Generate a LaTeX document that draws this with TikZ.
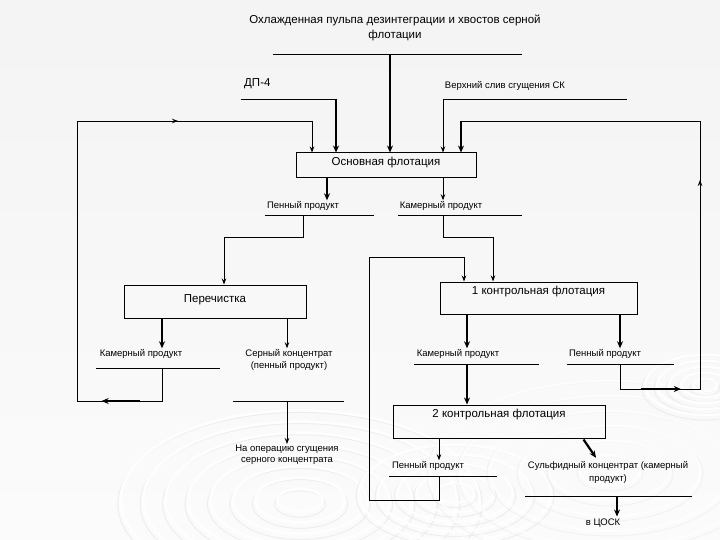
\documentclass[tikz,border=0pt]{standalone}
\usepackage{fontspec}
\setmainfont{Liberation Sans}
\usetikzlibrary{arrows.meta, positioning, calc}

\begin{document}
\begin{tikzpicture}[
    x=1pt, y=-1pt,
    opbox/.style={draw, line width=1pt, inner sep=0pt, text height=8pt, font=\fontsize{11.5}{13}\selectfont},
    lbl/.style={font=\fontsize{9.5}{12}\selectfont, align=center, inner sep=0pt},
    big/.style={font=\fontsize{11.5}{14.5}\selectfont, align=center, inner sep=0pt},
    bar/.style={line width=0.9pt},
    arr/.style={-{Stealth[length=6pt, width=4.5pt]}, line width=0.9pt},
    thickarr/.style={-{Stealth[length=7pt, width=6pt]}, line width=2.2pt},
    ripple/.style={white, line width=2.5pt, opacity=0.9},
    rippleshade/.style={gray!16, line width=1pt, opacity=0.8},
  ]

  % Background
  \useasboundingbox (0,0) rectangle (720,540);
  \fill[top color=gray!9, bottom color=gray!3] (0,0) rectangle (720,540);
  \begin{scope}
    \clip (0,0) rectangle (720,540);
    \foreach \r in {14,28,...,112} {
      \draw[rippleshade] (300,504) ellipse ({1.6*\r+3} and {0.8*\r+2});
      \draw[ripple] (300,500) ellipse ({1.6*\r} and {0.8*\r});
    }
    \foreach \r in {12,24,...,60} {
      \draw[rippleshade] (455,496) ellipse ({1.6*\r+3} and {0.8*\r+2});
      \draw[ripple] (455,493) ellipse ({1.6*\r} and {0.8*\r});
    }
    \foreach \r in {20,40,...,120} {
      \draw[rippleshade, opacity=0.5] (610,474) ellipse ({1.5*\r+3} and {0.75*\r+2});
      \draw[ripple, opacity=0.6] (610,471) ellipse ({1.5*\r} and {0.75*\r});
    }
    \foreach \r in {8,16,...,40} {
      \draw[rippleshade] (705,388) ellipse ({1.5*\r+3} and {0.75*\r+2});
      \draw[ripple] (705,385) ellipse ({1.5*\r} and {0.75*\r});
    }
  \end{scope}

  % Feed streams
  \node[big] (feed) at (395,28) {Охлажденная пульпа дезинтеграции и хвостов серной\\флотации};
  \node[big, anchor=west] (dp) at (244,84) {ДП-4};
  \node[lbl] (sliv) at (505,86) {Верхний слив сгущения СК};

  % Operations
  \node[opbox, minimum width=180pt, minimum height=25pt, text depth=7pt] (osn) at (386,165.5) {Основная флотация};
  \node[opbox, minimum width=182pt, minimum height=33pt, text depth=7pt] (per) at (215,301.5) {Перечистка};
  \node[opbox, minimum width=197pt, minimum height=32pt, text depth=16pt] (k1) at (538.5,298) {1 контрольная флотация};
  \node[opbox, minimum width=212pt, minimum height=33pt, text depth=17pt] (k2) at (499,421.5) {2 контрольная флотация};

  % Products
  \node[lbl] (pen1) at (303,206) {Пенный продукт};
  \node[lbl] (kam1) at (441,206) {Камерный продукт};
  \node[lbl] (kam2) at (141,354) {Камерный продукт};
  \node[lbl] (ser) at (289,360) {Серный концентрат\\(пенный продукт)};
  \node[lbl, font=\fontsize{9.5}{11}\selectfont] (nao) at (287,455) {На операцию сгущения\\серного концентрата};
  \node[lbl] (kam3) at (458,354) {Камерный продукт};
  \node[lbl] (pen2) at (605,354) {Пенный продукт};
  \node[lbl] (pen3) at (428,466) {Пенный продукт};
  \node[lbl, font=\fontsize{9.5}{13}\selectfont] (sulf) at (608,472) {Сульфидный концентрат (камерный\\продукт)};
  \node[lbl] (tsosk) at (603,523) {в ЦОСК};

  % Bars under the labels
  \coordinate (feedL) at (273,54);  \coordinate (feedR) at (522,54);
  \coordinate (dpL) at (241,99);    \coordinate (dpR) at (336,99);
  \coordinate (slivL) at (443,99);  \coordinate (slivR) at (627,99);
  \coordinate (pen1L) at (265,215); \coordinate (pen1R) at (374,215);
  \coordinate (kam1L) at (398,215); \coordinate (kam1R) at (522,215);
  \coordinate (kam2L) at (96,368);  \coordinate (kam2R) at (220,368);
  \coordinate (serL) at (233,401);  \coordinate (serR) at (344,401);
  \coordinate (kam3L) at (414,364); \coordinate (kam3R) at (539,364);
  \coordinate (pen2L) at (567,364); \coordinate (pen2R) at (674,364);
  \coordinate (pen3L) at (389,476); \coordinate (pen3R) at (497,476);
  \coordinate (sulfL) at (525,496); \coordinate (sulfR) at (692,496);
  \foreach \p in {feed,dp,sliv,pen1,kam1,kam2,ser,kam3,pen2,pen3,sulf}
    \draw[bar] (\p L) -- (\p R);

  % Junctions on the bars
  \coordinate (feedJ) at (390,54);
  \coordinate (pen1J) at (303,215);
  \coordinate (kam1J) at (443,215);
  \coordinate (kam2J) at (162,368);
  \coordinate (serJ) at (287,401);
  \coordinate (kam3J) at (467,364);
  \coordinate (pen2J) at (620,364);
  \coordinate (pen3J) at (439,476);
  \coordinate (sulfJ) at (617,496);
  \coordinate (osnP) at (327,178);

  % Into the rougher
  \draw[thickarr] (feedJ) -- (feedJ |- osn.north);
  \draw[thickarr] (dpR) -- (dpR |- osn.north);
  \draw[arr] (slivL) -- (slivL |- osn.north);

  % Out of the rougher
  \draw[thickarr, shorten >=1pt] (osnP |- osn.south) -- (osnP |- pen1.north);
  \draw[arr, shorten >=1pt] (kam1J |- osn.south) -- (kam1J |- kam1.north);
  \coordinate (pen1K) at (224,237);
  \draw[arr] (pen1J) |- (pen1K) -- (pen1K |- per.north);
  \coordinate (kam1K) at (493,237);
  \draw[arr] (kam1J) |- (kam1K) -- (kam1K |- k1.north);

  % Cleaner
  \draw[thickarr, shorten >=1pt] (kam2J |- per.south) -- (kam2J |- kam2.north);
  \draw[arr, shorten >=1pt] (serJ |- per.south) -- (serJ |- ser.north);
  \draw[arr, shorten >=1pt] (serJ) -- (serJ |- nao.north);

  % Recycle of cleaner tailings
  \coordinate (lpB) at (77,401);
  \coordinate (lpT) at (77,121);
  \coordinate (lpE) at (312,121);
  \draw[bar] (kam2J) |- (lpB) -- (lpT) -- (lpE);
  \draw[thickarr] ($(kam2J |- lpB)!0.26!(lpB)$) -- ($(kam2J |- lpB)!0.71!(lpB)$);
  \draw[arr] (lpT) -- ($(lpT)!0.43!(lpE)$);
  \draw[arr] (lpE) -- (lpE |- osn.north);

  % Scavenger 1
  \draw[thickarr, shorten >=1pt] (kam3J |- k1.south) -- (kam3J |- kam3.north);
  \draw[thickarr, shorten >=1pt] (pen2J |- k1.south) -- (pen2J |- pen2.north);
  \draw[thickarr] (kam3J) -- (kam3J |- k2.north);

  % Recycle of scavenger froth
  \coordinate (rpB) at (700,389);
  \coordinate (rpT) at (700,121);
  \coordinate (rpE) at (461,121);
  \draw[bar] (pen2J) |- (rpB) -- (rpT) -- (rpE);
  \draw[thickarr] ($(pen2J |- rpB)!0.26!(rpB)$) -- ($(pen2J |- rpB)!0.76!(rpB)$);
  \draw[arr] (rpB) -- ($(rpB)!0.78!(rpT)$);
  \draw[thickarr] (rpE) -- (rpE |- osn.north);

  % Scavenger 2
  \draw[arr, shorten >=1pt] (pen3J |- k2.south) -- (pen3J |- pen3.north);
  \draw[thickarr] ($(k2.south east)+(-22,1)$) -- ($(sulf.north)+(-12,-3)$);
  \draw[thickarr, shorten >=2pt] (sulfJ) -- (sulfJ |- tsosk.north);
  \coordinate (upB) at (369,500);
  \coordinate (upT) at (369,257);
  \coordinate (upE) at (464,257);
  \draw[arr] (pen3J) |- (upB) -- (upT) -- (upE) -- (upE |- k1.north);

\end{tikzpicture}
\end{document}
